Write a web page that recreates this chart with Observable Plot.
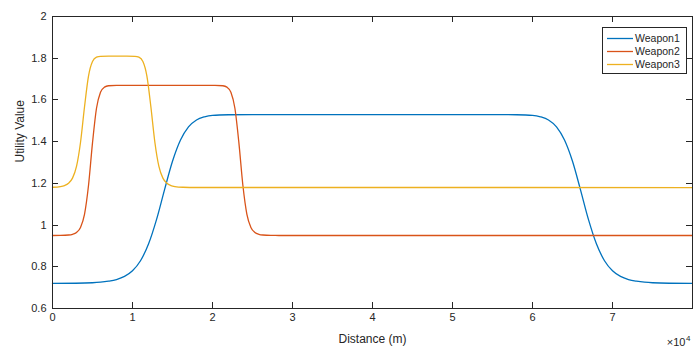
<!DOCTYPE html>
<html>
<head>
<meta charset="utf-8">
<script src="https://cdn.jsdelivr.net/npm/d3@7"></script>
<script src="https://cdn.jsdelivr.net/npm/@observablehq/plot@0.6"></script>
<style>
  html, body { margin: 0; padding: 0; background: #fff; }
  #chart { width: 693px; height: 347px; overflow: hidden; }
</style>
</head>
<body>
<div id="chart"></div>
<script>
// Utility value of each weapon as a function of engagement distance (metres).
const seriesNames = ["Weapon1", "Weapon2", "Weapon3"];
const seriesColors = ["#0072BD", "#D95319", "#EDB120"];

const weapon1Distance = [0, 5000, 6000, 7000, 8000, 9000, 10000, 11000, 12000, 13000, 14000, 15000, 16000, 17000, 18000, 19000, 20000, 22000, 25000,
  55000, 58000, 60000, 61000, 62000, 63000, 64000, 65000, 66000, 67000, 68000, 69000, 70000, 71000, 72000, 73000, 74000, 75000, 80000];
const weapon1Utility = [0.720, 0.7235, 0.726, 0.731, 0.739, 0.754, 0.781, 0.829, 0.909, 1.026, 1.169, 1.306, 1.408, 1.471, 1.504, 1.519, 1.526, 1.529, 1.530,
  1.530, 1.529, 1.526, 1.519, 1.504, 1.471, 1.408, 1.306, 1.169, 1.026, 0.909, 0.829, 0.781, 0.754, 0.739, 0.731, 0.726, 0.7235, 0.720];

const weapon2Distance = [0, 1000, 2000, 2500, 3000, 3500, 4000, 4500, 5000, 5500, 6000, 6500, 7000, 8000,
  20300, 21300, 21800, 22300, 22800, 23300, 23800, 24300, 24800, 25300, 25800, 26300, 27300, 28300, 30000, 80000];
const weapon2Utility = [0.950, 0.9504, 0.9523, 0.9557, 0.9647, 0.9888, 1.0516, 1.1897, 1.394, 1.560, 1.6365, 1.6614, 1.668, 1.670,
  1.670, 1.668, 1.6614, 1.6365, 1.560, 1.394, 1.1897, 1.0516, 0.9888, 0.9647, 0.9557, 0.9523, 0.9504, 0.9501, 0.950, 0.950];

const weapon3Distance = [0, 1000, 1500, 2000, 2500, 3000, 3500, 4000, 4500, 5000, 5500, 6000, 7000,
  9300, 10300, 10800, 11300, 11800, 12300, 12800, 13300, 13800, 14300, 14800, 15300, 16300, 18000, 80000];
const weapon3Utility = [1.1813, 1.1847, 1.1896, 1.2004, 1.225, 1.281, 1.396, 1.566, 1.714, 1.784, 1.805, 1.8093, 1.810,
  1.810, 1.8093, 1.805, 1.784, 1.714, 1.566, 1.396, 1.281, 1.225, 1.2004, 1.1896, 1.1847, 1.1813, 1.1802, 1.180];

const xTicks = [0, 10000, 20000, 30000, 40000, 50000, 60000, 70000];
const xTickLabels = ["0", "1", "2", "3", "4", "5", "6", "7"];
const yTicks = [0.6, 0.8, 1, 1.2, 1.4, 1.6, 1.8, 2];
const yTickLabels = ["0.6", "0.8", "1", "1.2", "1.4", "1.6", "1.8", "2"];

const seriesData = [
  [weapon1Distance, weapon1Utility],
  [weapon2Distance, weapon2Utility],
  [weapon3Distance, weapon3Utility]
];
const rows = seriesData.flatMap(([dist, util], s) =>
  dist.map((d, i) => ({weapon: seriesNames[s], distance: d, utility: util[i]})));

const ink = "#262626";
const W = 693, H = 347, mL = 52, mR = 1, mT = 16, mB = 39;
const innerW = W - mL - mR, innerH = H - mT - mB;
const tickLen = 6;

const plot = Plot.plot({
  width: W,
  height: H,
  marginLeft: mL,
  marginRight: mR,
  marginTop: mT,
  marginBottom: mB,
  style: {fontFamily: "'Liberation Sans', Arial, sans-serif", fontSize: "11px", color: ink, background: "white"},
  x: {domain: [0, 80000]},
  y: {domain: [0.6, 2]},
  color: {domain: seriesNames, range: seriesColors},
  marks: [
    Plot.axisX(xTicks, {tickSize: 0, tickPadding: 5, tickFormat: (d, i) => xTickLabels[i], label: null}),
    Plot.axisY(yTicks, {tickSize: 0, tickPadding: 6, tickFormat: (d, i) => yTickLabels[i], label: null}),
    // inward tick marks on all four sides of the box
    Plot.tickX(xTicks, {x: d => d, insetTop: innerH - tickLen, stroke: ink, shapeRendering: "crispEdges"}),
    Plot.tickX(xTicks, {x: d => d, insetBottom: innerH - tickLen, stroke: ink, shapeRendering: "crispEdges"}),
    Plot.tickY(yTicks, {y: d => d, insetRight: innerW - tickLen, stroke: ink, shapeRendering: "crispEdges"}),
    Plot.tickY(yTicks, {y: d => d, insetLeft: innerW - tickLen, stroke: ink, shapeRendering: "crispEdges"}),
    Plot.line(rows, {x: "distance", y: "utility", z: "weapon", stroke: "weapon", curve: "monotone-x", strokeWidth: 1.3}),
    Plot.frame({stroke: ink, shapeRendering: "crispEdges"}),
    Plot.text(["Distance (m)"], {frameAnchor: "bottom", lineAnchor: "top", dy: 26, fontSize: 12, fill: ink}),
    Plot.text(["Utility Value"], {frameAnchor: "left", rotate: -90, lineAnchor: "middle", dx: -32.5, fontSize: 12, fill: ink}),
    // axis exponent: ×10⁴
    Plot.text(["×10"], {frameAnchor: "bottom-right", textAnchor: "end", lineAnchor: "bottom", dx: -7, dy: 37, fontSize: 11, fill: ink}),
    Plot.text(["4"], {frameAnchor: "bottom-right", textAnchor: "start", lineAnchor: "bottom", dx: -6.5, dy: 32, fontSize: 8, fill: ink})
  ]
});

// legend box in the upper right corner
const svg = d3.select(plot);
const legend = svg.append("g")
  .attr("font-family", "'Liberation Sans', Arial, sans-serif")
  .attr("font-size", 10.5)
  .attr("text-anchor", "start")
  .attr("fill", ink);
legend.append("rect")
  .attr("x", 602.5).attr("y", 27.5).attr("width", 84).attr("height", 46)
  .attr("fill", "white").attr("stroke", ink).attr("stroke-width", 1);
seriesNames.forEach((name, i) => {
  const y = 38 + 13 * i;
  legend.append("line")
    .attr("x1", 607).attr("x2", 633).attr("y1", y + 0.5).attr("y2", y + 0.5)
    .attr("stroke", seriesColors[i]).attr("stroke-width", 1.3);
  legend.append("text")
    .attr("x", 635).attr("y", y).attr("dy", "0.35em").text(name);
});

document.getElementById("chart").appendChild(plot);
</script>
</body>
</html>
